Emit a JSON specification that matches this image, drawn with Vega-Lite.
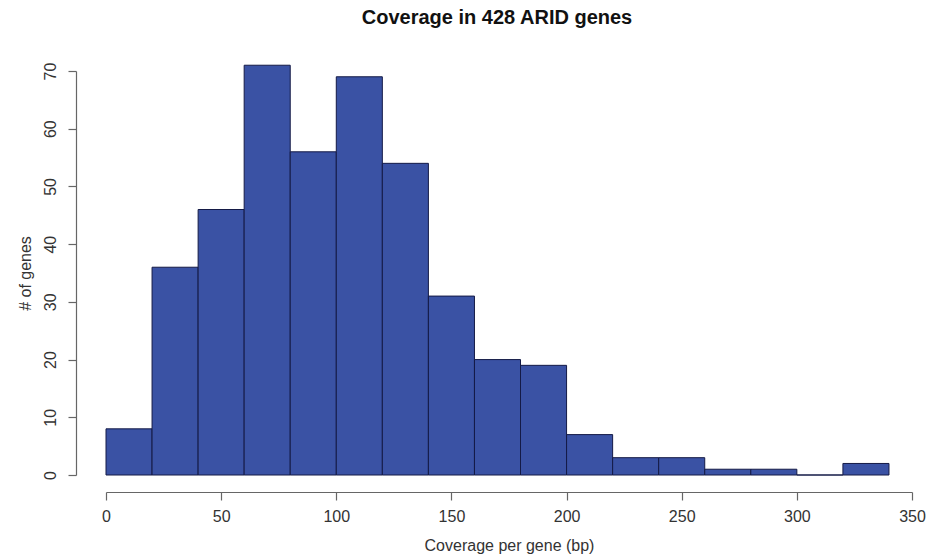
{
  "$schema": "https://vega.github.io/schema/vega-lite/v6.json",
  "width": 806,
  "height": 404,
  "autosize": "none",
  "padding": {"left": 106, "top": 71, "right": 16, "bottom": 83},
  "background": "white",
  "title": {
    "text": "Coverage in 428 ARID genes",
    "font": "Liberation Sans",
    "fontSize": 20,
    "fontWeight": "bold",
    "color": "#111111",
    "anchor": "middle",
    "dx": -12,
    "offset": 34
  },
  "data": {
    "values": [
      {"bin_start": 0, "bin_end": 20, "count": 8},
      {"bin_start": 20, "bin_end": 40, "count": 36},
      {"bin_start": 40, "bin_end": 60, "count": 46},
      {"bin_start": 60, "bin_end": 80, "count": 71},
      {"bin_start": 80, "bin_end": 100, "count": 56},
      {"bin_start": 100, "bin_end": 120, "count": 69},
      {"bin_start": 120, "bin_end": 140, "count": 54},
      {"bin_start": 140, "bin_end": 160, "count": 31},
      {"bin_start": 160, "bin_end": 180, "count": 20},
      {"bin_start": 180, "bin_end": 200, "count": 19},
      {"bin_start": 200, "bin_end": 220, "count": 7},
      {"bin_start": 220, "bin_end": 240, "count": 3},
      {"bin_start": 240, "bin_end": 260, "count": 3},
      {"bin_start": 260, "bin_end": 280, "count": 1},
      {"bin_start": 280, "bin_end": 300, "count": 1},
      {"bin_start": 300, "bin_end": 320, "count": 0},
      {"bin_start": 320, "bin_end": 340, "count": 2}
    ]
  },
  "mark": {"type": "bar", "fill": "#3a52a4", "stroke": "#141a46", "strokeWidth": 1, "opacity": 1},
  "encoding": {
    "x": {
      "field": "bin_start",
      "type": "quantitative",
      "scale": {"domain": [0, 350], "nice": false, "zero": false},
      "axis": {
        "title": "Coverage per gene (bp)",
        "values": [0, 50, 100, 150, 200, 250, 300, 350],
        "grid": false,
        "offset": 17,
        "tickSize": 8,
        "labelPadding": 8,
        "labelFlush": false,
        "labelOverlap": false,
        "labelFont": "Liberation Sans",
        "labelFontSize": 16,
        "labelColor": "#333333",
        "titleFont": "Liberation Sans",
        "titleFontSize": 16,
        "titleFontWeight": "normal",
        "titleColor": "#333333",
        "titlePadding": 13,
        "domainColor": "#666666",
        "tickColor": "#666666",
        "domainWidth": 1.2,
        "tickWidth": 1.2
      }
    },
    "x2": {"field": "bin_end"},
    "y": {
      "field": "count",
      "type": "quantitative",
      "scale": {"domain": [0, 70], "nice": false},
      "axis": {
        "title": "# of genes",
        "values": [0, 10, 20, 30, 40, 50, 60, 70],
        "grid": false,
        "offset": 30,
        "tickSize": 8,
        "labelAngle": 270,
        "labelAlign": "center",
        "labelBaseline": "bottom",
        "labelPadding": 10,
        "labelFlush": false,
        "labelOverlap": false,
        "labelFont": "Liberation Sans",
        "labelFontSize": 16,
        "labelColor": "#333333",
        "titleFont": "Liberation Sans",
        "titleFontSize": 16,
        "titleFontWeight": "normal",
        "titleColor": "#333333",
        "titlePadding": 9,
        "domainColor": "#666666",
        "tickColor": "#666666",
        "domainWidth": 1.2,
        "tickWidth": 1.2
      }
    },
    "y2": {"datum": 0}
  },
  "config": {"view": {"stroke": null}}
}
